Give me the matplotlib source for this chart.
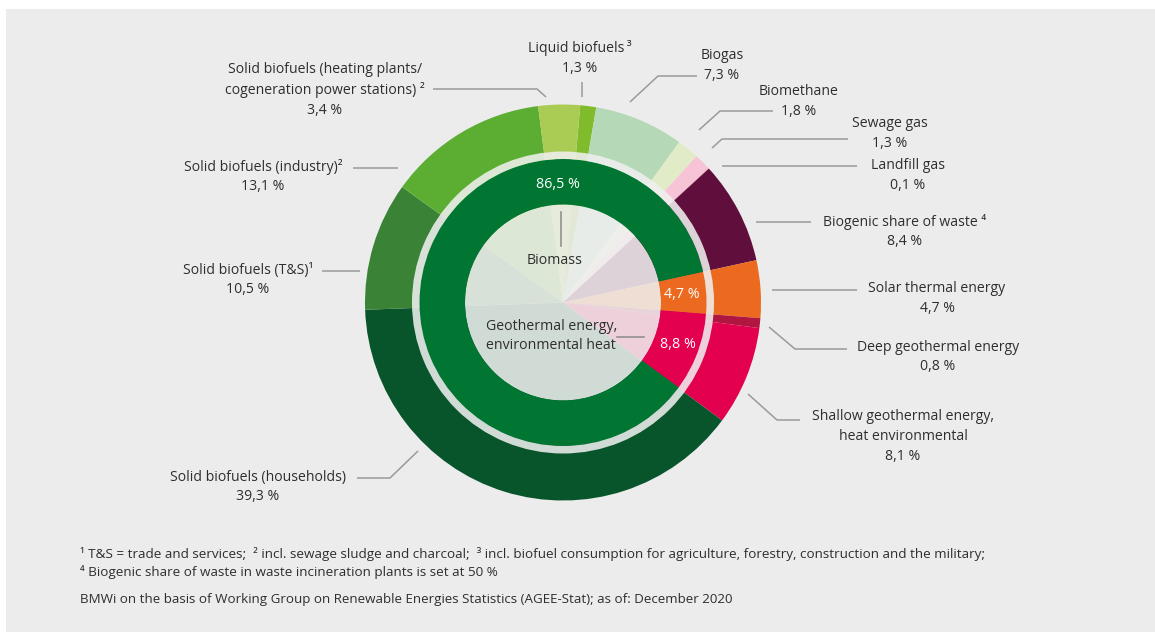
import matplotlib
matplotlib.use("Agg")
import matplotlib.pyplot as plt
from matplotlib.patches import Rectangle, Circle, Wedge

plt.rcParams['font.family'] = ['Open Sans', 'DejaVu Sans']

# ---- data -------------------------------------------------------------
# outer ring: individual heat sources, clockwise
sources = [
    "Liquid biofuels\u2009³", "Biogas", "Biomethane", "Sewage gas", "Landfill gas",
    "Biogenic share of waste ⁴", "Solar thermal energy", "Deep geothermal energy",
    "Shallow geothermal energy,\nheat environmental", "Solid biofuels (households)",
    "Solid biofuels (T&S)¹", "Solid biofuels (industry)²",
    "Solid biofuels (heating plants/\ncogeneration power stations) ²",
]
shares = [1.3, 7.3, 1.8, 1.3, 0.1, 8.4, 4.7, 0.8, 8.1, 39.3, 10.5, 13.1, 3.4]

# inner ring: groups of sources, clockwise starting with solar thermal
groups = ["Solar thermal energy", "Geothermal energy, environmental heat", "Biomass"]
group_shares = [4.7, 8.8, 86.5]

footnotes = [
    "¹ T&S = trade and services;  ² incl. sewage sludge and charcoal;  ³ incl. biofuel "
    "consumption for agriculture, forestry, construction and the military;",
    "⁴ Biogenic share of waste in waste incineration plants is set at 50 %",
]
source_note = ("BMWi on the basis of Working Group on Renewable Energies Statistics "
               "(AGEE-Stat); as of: December 2020")

# ---- style ------------------------------------------------------------
source_colors = ["#7fbb2b", "#b5d9b7", "#e1ebc7", "#f6c4d6", "#f3b6cb",
                 "#600e3b", "#eb6a20", "#b0163f", "#e2004f", "#09552b",
                 "#398236", "#5cae33", "#aacb54"]
group_colors = ["#eb6a20", "#e2004f", "#007632"]

W, H = 1155, 632
BG = "#ececec"
VEIL = "#f0f0f0"
TXT = "#2e2e2e"
LINE = "#9a9a9a"
CX, CY = 563, 302.5          # centre in pixels from the top
R_OUT, R_SEP, R_RING, R_IN = 198, 151, 143.5, 98
FS = 10.1


def P(x, y):
    """pixel position (origin top-left) -> axes data coordinates"""
    return x, H - y


def fmt(v):
    return f"{v:.1f}".replace(".", ",") + " %"


# label anchors (block centre) and leader polylines, in pixels
label_pos = [(580, 58), (722, 65.5), (799, 101.5), (890, 133.5), (908, 175.5),
             (905, 231.5), (937, 298.5), (938, 357), (903, 436.5), (258, 487),
             (248, 280), (263, 176.5), (325, 90)]
leaders = [
    [(582, 82), (582, 97)],
    [(697, 76), (658, 76), (630, 102)],
    [(773, 111), (720, 111), (699, 130)],
    [(848, 139), (722, 139), (712, 148)],
    [(857, 166), (722, 166)],
    [(811, 222), (756, 222)],
    [(857, 290), (772, 290)],
    [(847, 349), (795, 349), (769, 327)],
    [(800, 420), (777, 420), (748, 394)],
    [(357, 478), (390, 478), (418, 451)],
    [(322, 271), (360, 271)],
    [(353, 168), (398, 168)],
    [(433, 89), (537, 89), (546, 97)],
]
group_value_pos = [(682, 294), (678, 344), (558, 184)]

# ---- figure -----------------------------------------------------------
fig = plt.figure(figsize=(W / 100, H / 100), dpi=100, facecolor="white")
ax = fig.add_axes([0, 0, 1, 1])

ax.add_patch(Rectangle(P(6, H), W - 6, H - 9, facecolor=BG, edgecolor="none", zorder=0))

outer_start = 85.0
before_solar = sum(shares[:sources.index("Solar thermal energy")])
inner_start = outer_start - 360.0 * before_solar / sum(shares)

# full outer pie; its centre is veiled below
ax.pie(shares, radius=R_OUT, center=P(CX, CY), startangle=outer_start,
       counterclock=False, colors=source_colors,
       wedgeprops=dict(linewidth=0, antialiased=True, zorder=1))

# veil over the centre of the pie
ax.add_patch(Circle(P(CX, CY), R_IN, facecolor=VEIL, alpha=0.87,
                    edgecolor="none", zorder=3))

# inner ring with the three groups
ax.pie(group_shares, radius=R_RING, center=P(CX, CY), startangle=inner_start,
       counterclock=False, colors=group_colors,
       wedgeprops=dict(width=R_RING - R_IN, linewidth=0, zorder=4))

# translucent separator between the rings
ax.add_patch(Wedge(P(CX, CY), R_SEP, 0, 360, width=R_SEP - R_RING,
                   facecolor=VEIL, alpha=0.87, edgecolor="none", zorder=5))

# outer labels
for name, val, (lx, ly), pts in zip(sources, shares, label_pos, leaders):
    ax.text(*P(lx, ly), f"{name}\n{fmt(val)}", ha="center", va="center",
            fontsize=FS, color=TXT, linespacing=1.42, zorder=6)
    xs, ys = zip(*[P(x, y) for x, y in pts])
    ax.plot(xs, ys, color=LINE, lw=1.1, solid_capstyle="butt", zorder=6)

# values on the inner ring
for val, (vx, vy) in zip(group_shares, group_value_pos):
    ax.text(*P(vx, vy), fmt(val), ha="center", va="center", fontsize=10.3,
            color="white", zorder=7)

# group names in the centre
ax.text(*P(555, 261), "Biomass", ha="center", va="center", fontsize=10.2,
        color=TXT, zorder=7)
ax.text(*P(486, 336), "Geothermal energy,\nenvironmental heat", ha="left",
        va="center", fontsize=10.2, color=TXT, linespacing=1.4, zorder=7)
ax.plot(*zip(P(561, 212), P(561, 246)), color="#8a8a8a", lw=1.1, zorder=7)
ax.plot(*zip(P(617, 337), P(644, 337)), color="#8a8a8a", lw=1.1, zorder=7)

# notes
ax.text(*P(80, 554), footnotes[0], ha="left", va="center", fontsize=9.7, color=TXT)
ax.text(*P(80, 572), footnotes[1], ha="left", va="center", fontsize=9.7, color=TXT)
ax.text(*P(80, 600), source_note, ha="left", va="center", fontsize=9.6, color=TXT)

ax.set_xlim(0, W)
ax.set_ylim(0, H)
ax.set_aspect("equal")
ax.axis("off")

fig.savefig("out.png", dpi=100, facecolor="white")
